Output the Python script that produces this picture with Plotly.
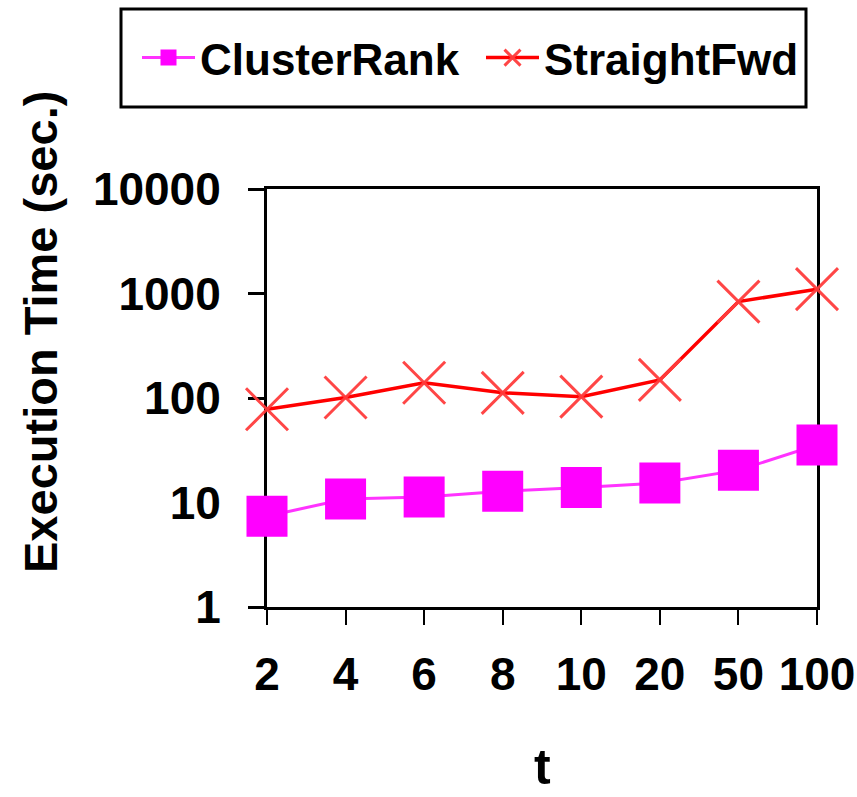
import plotly.graph_objects as go

categories = ["2", "4", "6", "8", "10", "20", "50", "100"]
cluster_rank = [7.4, 10.8, 11.3, 12.8, 13.9, 15.4, 20.4, 35.5]
straight_fwd = [78, 101, 140, 112, 103, 149, 837, 1100]
y_tickvals = [1, 10, 100, 1000, 10000]
y_ticktext = ["1", "10", "100", "1000", "10000"]

FONT = "Arial, Liberation Sans, sans-serif"

fig = go.Figure()
fig.add_trace(go.Scatter(
    x=categories, y=cluster_rank, name="ClusterRank", mode="lines+markers",
    line=dict(color="#ff33ff", width=3),
    marker=dict(symbol="square", size=41, color="#ff00ff", line=dict(width=0)),
    cliponaxis=False,
))
fig.add_trace(go.Scatter(
    x=categories, y=straight_fwd, name="StraightFwd", mode="lines+markers",
    line=dict(color="#ff0000", width=3.5),
    marker=dict(symbol="x-thin", size=42, color="rgba(255,60,60,0.95)",
                line=dict(width=3, color="rgba(255,60,60,0.95)")),
    cliponaxis=False,
))

W, H = 857, 797
L, R, T, B = 267, 40, 189, 190
pw, ph = W - L - R, H - T - B

def px_x(x):
    return (x - L) / pw

def px_y(y):
    return (H - B - y) / ph

fig.update_layout(
    width=W, height=H,
    margin=dict(l=L, r=R, t=T, b=B, autoexpand=False),
    paper_bgcolor="white", plot_bgcolor="white",
    font=dict(family=FONT, color="black", size=46, weight="bold"),
    showlegend=True,
    legend=dict(
        orientation="h", xref="paper", yref="paper",
        x=px_x(137), xanchor="left", y=px_y(58), yanchor="middle",
        font=dict(family=FONT, size=44, color="black", weight="bold"),
        itemwidth=53, bgcolor="rgba(0,0,0,0)", borderwidth=0,
        entrywidth=276, entrywidthmode="pixels",
        itemsizing="trace",
    ),
    xaxis=dict(
        type="category", range=[0, 7], showline=True, linecolor="black", linewidth=3,
        mirror=True, ticks="outside", ticklen=15, tickwidth=2, tickcolor="black",
        showgrid=False, zeroline=False, layer="below traces",
        tickfont=dict(family=FONT, size=46, weight="bold"), ticklabelstandoff=10,
    ),
    yaxis=dict(
        type="log", range=[0, 4], showline=True, linecolor="black", linewidth=3,
        mirror=True, ticks="outside", ticklen=16, tickwidth=3, tickcolor="black",
        tickvals=y_tickvals, ticktext=y_ticktext,
        showgrid=False, zeroline=False, layer="below traces",
        tickfont=dict(family=FONT, size=46, weight="bold"), ticklabelstandoff=18,
    ),
    shapes=[dict(
        type="rect", xref="paper", yref="paper",
        x0=px_x(121), x1=px_x(806), y0=px_y(107), y1=px_y(9),
        line=dict(color="black", width=3), fillcolor="rgba(0,0,0,0)", layer="below",
    )],
    annotations=[
        dict(text="Execution Time (sec.)", xref="paper", yref="paper",
             x=px_x(40), y=px_y(332), textangle=-90, showarrow=False,
             xanchor="center", yanchor="middle",
             font=dict(family=FONT, size=47, weight="bold", color="black")),
        dict(text="t", xref="paper", yref="paper",
             x=px_x(542), y=px_y(767), showarrow=False,
             xanchor="center", yanchor="middle",
             font=dict(family=FONT, size=50, weight="bold", color="black")),
    ],
)

fig.write_html("out.html")
